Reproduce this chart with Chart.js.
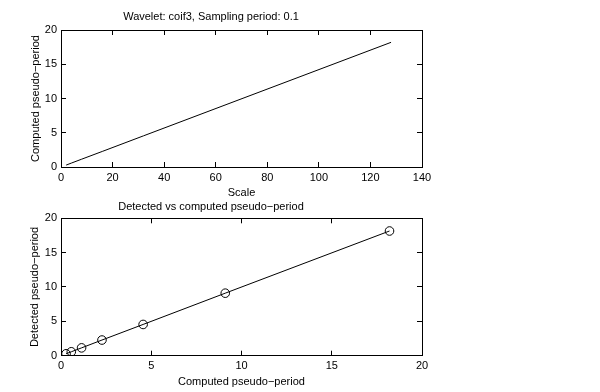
<!DOCTYPE html>
<html>
<head>
<meta charset="utf-8">
<script src="https://cdn.jsdelivr.net/npm/chart.js@4/dist/chart.umd.min.js"></script>
<style>
  html, body { margin: 0; padding: 0; background: #fff; }
  #wrap { position: relative; width: 600px; height: 392px; overflow: hidden; }
  canvas { position: absolute; left: 0; }
  #c1 { top: 0; }
  #c2 { top: 200px; }
</style>
</head>
<body>
<div id="wrap">
  <canvas id="c1" width="600" height="200"></canvas>
  <canvas id="c2" width="600" height="192"></canvas>
</div>
<script>
// ---- data ----
const scales = [2, 4, 8, 16, 32, 64, 128];
const computedPeriod = [0.28, 0.57, 1.14, 2.27, 4.55, 9.1, 18.2];
const detectedPeriod = [0.28, 0.57, 1.14, 2.28, 4.55, 9.1, 18.15];
const topTitle = 'Wavelet: coif3, Sampling period: 0.1';
const topXLabel = 'Scale';
const topYLabel = 'Computed pseudo\u2212period';
const botTitle = 'Detected vs computed pseudo\u2212period';
const botXLabel = 'Computed pseudo\u2212period';
const botYLabel = 'Detected pseudo\u2212period';
const topXTicks = [0, 20, 40, 60, 80, 100, 120, 140];
const periodTicks = [0, 5, 10, 15, 20];

Chart.defaults.font.family = '"Liberation Sans", Arial, Helvetica, sans-serif';
Chart.defaults.font.size = 11;
Chart.defaults.color = '#000';
Chart.defaults.animation = false;

const TL = -5; // inward tick length

function axis(pos, min, max, step, opts) {
  const isX = pos === 'top' || pos === 'bottom';
  const showLabels = opts.labels;
  return {
    type: 'linear',
    position: pos,
    min: min, max: max,
    afterBuildTicks: (s) => { s.ticks = opts.tickList.map(v => ({value: v})); },
    grid: { drawOnChartArea: false, drawTicks: true, tickLength: TL, color: '#000', lineWidth: 1 },
    border: { display: true, color: '#000', width: 1 },
    ticks: { display: showLabels, padding: opts.pad || 0, color: '#000', font: { size: 11 },
             maxRotation: 0, autoSkip: false, callback: (v) => String(v) },
    title: opts.title ? { display: true, text: opts.title, color: '#000', font: { size: 11 },
             padding: opts.titlePad } : { display: false },
    afterFit: (s) => { if (isX) s.height = opts.size; else s.width = opts.size; }
  };
}

// Top chart: chart area left 61, right 422, top 30, bottom 167 (canvas height 200)
new Chart(document.getElementById('c1'), {
  type: 'scatter',
  data: {
    datasets: [{
      data: scales.map((s, i) => ({x: s, y: computedPeriod[i]})),
      showLine: true, borderColor: '#000', borderWidth: 1, pointRadius: 0, tension: 0
    }]
  },
  options: {
    responsive: false,
    layout: { padding: { left: 0, right: 600 - 422, top: 0, bottom: 0 } },
    plugins: {
      legend: { display: false }, tooltip: { enabled: false },
      title: { display: true, text: topTitle, color: '#000', font: { size: 11, weight: 'normal' },
               padding: { top: 10.4, bottom: 6.4 } }
    },
    scales: {
      x: axis('bottom', 0, 140, 20, { labels: true, tickList: topXTicks, size: 33, pad: 9, title: topXLabel, titlePad: { top: 0, bottom: 0 } }),
      x2: axis('top', 0, 140, 20, { labels: false, tickList: topXTicks, size: 0 }),
      y: axis('left', 0, 20, 5, { labels: true, tickList: periodTicks, size: 61, pad: 9, title: topYLabel, titlePad: { top: 29.5, bottom: 0 } }),
      y2: axis('right', 0, 20, 5, { labels: false, tickList: periodTicks, size: 0 })
    }
  }
});

// Bottom chart: chart area top 218.3, bottom 355.7 in page (canvas top 200)
new Chart(document.getElementById('c2'), {
  type: 'scatter',
  data: {
    datasets: [{
      data: computedPeriod.map((c, i) => ({x: c, y: detectedPeriod[i]})),
      showLine: true, borderColor: '#000', borderWidth: 1,
      pointStyle: 'circle', pointRadius: 4.3, pointBorderWidth: 1,
      pointBorderColor: '#000', pointBackgroundColor: 'rgba(0,0,0,0)', tension: 0
    }]
  },
  options: {
    responsive: false,
    layout: { padding: { left: 0, right: 600 - 422, top: 0, bottom: 0 } },
    plugins: {
      legend: { display: false }, tooltip: { enabled: false },
      title: { display: true, text: botTitle, color: '#000', font: { size: 11, weight: 'normal' },
               padding: { top: 0.4, bottom: 4.7 } }
    },
    scales: {
      x: axis('bottom', 0, 20, 5, { labels: true, tickList: periodTicks, size: 192 - 155.7, pad: 9, title: botXLabel, titlePad: { top: 0, bottom: 3.4 } }),
      x2: axis('top', 0, 20, 5, { labels: false, tickList: periodTicks, size: 0 }),
      y: axis('left', 0, 20, 5, { labels: true, tickList: periodTicks, size: 61, pad: 9, title: botYLabel, titlePad: { top: 28.5, bottom: 0 } }),
      y2: axis('right', 0, 20, 5, { labels: false, tickList: periodTicks, size: 0 })
    }
  }
});
</script>
</body>
</html>
